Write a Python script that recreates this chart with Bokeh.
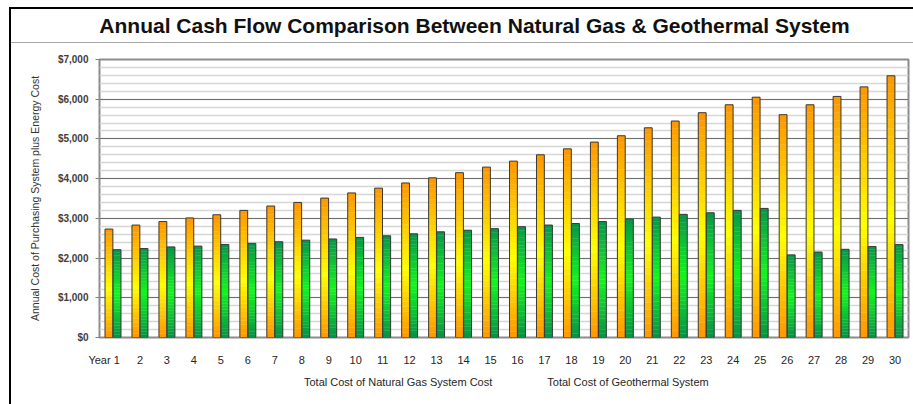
from bokeh.plotting import figure
from bokeh.layouts import column
from bokeh.models import (ColumnDataSource, Legend, LegendItem, Label,
                          SingleIntervalTicker, FixedTicker, NumeralTickFormatter, Range1d)
from bokeh.embed import file_html
from bokeh.resources import INLINE

# ---- data ----
years = list(range(1, 31))
gas_cost = [2730, 2830, 2920, 3010, 3090, 3200, 3310, 3400, 3510, 3640,
            3760, 3890, 4020, 4150, 4290, 4440, 4600, 4750, 4920, 5080,
            5280, 5450, 5660, 5860, 6050, 5610, 5860, 6070, 6310, 6590]
geo_cost = [2210, 2240, 2280, 2300, 2340, 2370, 2410, 2450, 2480, 2520,
            2560, 2610, 2660, 2700, 2740, 2790, 2830, 2870, 2920, 2980,
            3030, 3100, 3140, 3200, 3250, 2080, 2150, 2220, 2290, 2340]
series_names = ["Total Cost of Natural Gas System Cost", "Total Cost of Geothermal System"]
title_text = "Annual Cash Flow Comparison Between Natural Gas & Geothermal System"
y_label_text = "Annual Cost of Purchasing System plus Energy Cost"
first_tick_prefix = "Year "

W = 913
H_TITLE, H_MAIN, H_LEG = 44, 324, 36
FRAME_L, FRAME_R = 99, 908
FONT = "Liberation Sans"

# ---------------- title strip (frame aligned with main chart frame) ----------------
tfig = figure(width=W, height=H_TITLE, output_backend="svg", toolbar_location=None,
              x_range=Range1d(FRAME_L, FRAME_R), y_range=Range1d(0, H_TITLE),
              x_axis_type=None, y_axis_type=None, min_border=0)
tfig.title = None
tfig.outline_line_color = None
tfig.background_fill_alpha = 0
tfig.border_fill_alpha = 0
tfig.add_layout(Label(x=474, y=H_TITLE - 25, text=title_text, text_font=FONT,
                      text_font_size="21px", text_font_style="bold", text_color="#111111",
                      text_align="center", text_baseline="middle"))

# ---------------- main chart ----------------
p = figure(width=W, height=H_MAIN, output_backend="svg", toolbar_location=None,
           x_range=Range1d(0.5, 30.5), y_range=Range1d(0, 7000),
           min_border_left=FRAME_L, min_border_right=W - FRAME_R,
           min_border_top=15, min_border_bottom=31)
p.title = None
p.background_fill_color = "white"
p.border_fill_alpha = 0
p.outline_line_color = "#8c8c8c"
p.outline_line_width = 2

p.xgrid.grid_line_color = None
p.yaxis.ticker = SingleIntervalTicker(interval=1000, num_minor_ticks=5)
p.ygrid.grid_line_color = "#6e6e6e"
p.ygrid.grid_line_width = 1
p.ygrid.minor_grid_line_color = "#d6d6d6"
p.ygrid.minor_grid_line_width = 1.5

p.yaxis.formatter = NumeralTickFormatter(format="$0,0")
p.yaxis.major_label_text_font = FONT
p.yaxis.major_label_text_font_size = "10px"
p.yaxis.major_label_text_font_style = "bold"
p.yaxis.major_label_text_color = "#404040"
p.yaxis.axis_line_color = None
p.yaxis.major_tick_out = 4
p.yaxis.major_tick_in = 0
p.yaxis.major_tick_line_color = "#808080"
p.yaxis.minor_tick_line_color = None
p.yaxis.major_label_standoff = 7
p.yaxis.axis_label = y_label_text
p.yaxis.axis_label_text_font = FONT
p.yaxis.axis_label_text_font_size = "10.5px"
p.yaxis.axis_label_text_font_style = "normal"
p.yaxis.axis_label_text_color = "#333333"
p.yaxis.axis_label_standoff = 14

first_pos = round(years[0] - 0.33, 2)
p.xaxis.ticker = FixedTicker(ticks=[first_pos] + years[1:])
p.xaxis.major_label_overrides = {first_pos: first_tick_prefix + str(years[0])}
p.xaxis.major_label_text_font = FONT
p.xaxis.major_label_text_font_size = "11px"
p.xaxis.major_label_text_color = "#262626"
p.xaxis.axis_line_color = None
p.xaxis.major_tick_line_color = None
p.xaxis.minor_tick_line_color = None
p.xaxis.major_label_standoff = 10


def lerp(c1, c2, t):
    return "#%02x%02x%02x" % tuple(int(round(a + (b - a) * t)) for a, b in zip(c1, c2))


def grad_color(stops, t):
    for (t0, c0), (t1, c1) in zip(stops, stops[1:]):
        if t0 <= t <= t1:
            return lerp(c0, c1, (t - t0) / (t1 - t0) if t1 > t0 else 0)
    return lerp(stops[-1][1], stops[-1][1], 0)


gas_stops = [(0.0, (255, 150, 0)), (0.45, (255, 255, 0)), (1.0, (255, 150, 0))]
geo_stops = [(0.0, (8, 145, 70)), (0.5, (20, 245, 30)), (1.0, (8, 150, 72))]

N = 30
bw = 0.29
off = 0.15


def gradient_bars(vals, dx, stops):
    xs, bots, tops, cols = [], [], [], []
    for yr, v in zip(years, vals):
        for k in range(N):
            xs.append(yr + dx)
            bots.append(v * k / N)
            tops.append(v * (k + 1) / N)
            cols.append(grad_color(stops, (k + 0.5) / N))
    src = ColumnDataSource(dict(x=xs, bottom=bots, top=tops, color=cols))
    p.vbar(x="x", bottom="bottom", top="top", width=bw, fill_color="color",
           line_color="color", line_width=0.3, source=src)
    out = ColumnDataSource(dict(x=[y + dx for y in years], top=vals))
    p.vbar(x="x", top="top", bottom=0, width=bw, fill_color=None,
           line_color="#3a3a3a", line_width=1, source=out)


gradient_bars(gas_cost, -off, gas_stops)
gradient_bars(geo_cost, off, geo_stops)

# ---------------- legend strip ----------------
lfig = figure(width=W, height=H_LEG, output_backend="svg", toolbar_location=None,
              x_range=Range1d(0, 1), y_range=Range1d(0, 1),
              x_axis_type=None, y_axis_type=None, min_border=0)
lfig.title = None
lfig.outline_line_color = None
lfig.background_fill_alpha = 0
lfig.border_fill_alpha = 0
empty1 = ColumnDataSource(dict(x=[], top=[]))
empty2 = ColumnDataSource(dict(x=[], top=[]))
r1 = lfig.vbar(x="x", top="top", width=0.1, fill_color="#f5e000", line_color="#404040", source=empty1)
r2 = lfig.vbar(x="x", top="top", width=0.1, fill_color="#22cc22", line_color="#404040", source=empty2)
legend = Legend(items=[LegendItem(label=series_names[0], renderers=[r1]),
                       LegendItem(label=series_names[1], renderers=[r2])],
                orientation="horizontal", location=(194, 16.5),
                label_text_font=FONT, label_text_font_size="11px", label_text_color="#262626",
                glyph_width=8, glyph_height=8, spacing=44, padding=0, margin=0,
                label_standoff=3, label_height=12, border_line_color=None,
                background_fill_alpha=0)
lfig.add_layout(legend, "center")

layout = column(tfig, p, lfig, spacing=0, styles={
    "background-color": "white",
    "background-image": "linear-gradient(#a6a6a6, #a6a6a6), linear-gradient(#000, #000), linear-gradient(#000, #000)",
    "background-size": "902px 1px, 2px 397px, 904px 2px",
    "background-position": "11px 42px, 9px 7px, 9px 7px",
    "background-repeat": "no-repeat",
})

open("out.html", "w").write(file_html(layout, INLINE))
